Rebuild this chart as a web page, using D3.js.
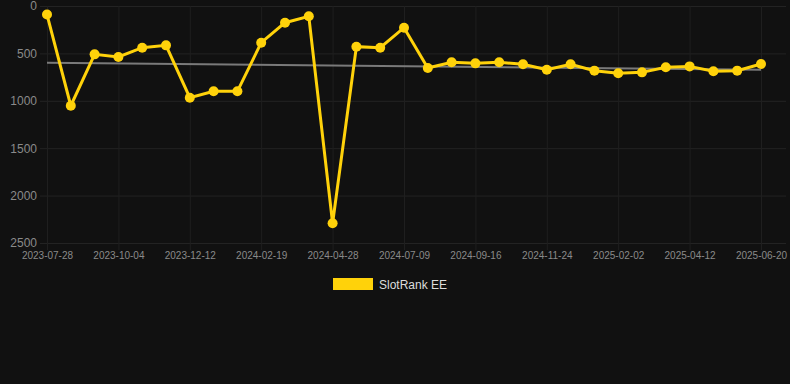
<!DOCTYPE html>
<html>
<head>
<meta charset="utf-8">
<script src="https://cdn.jsdelivr.net/npm/d3@7"></script>
<style>
  body { margin: 0; background: #111111; }
  svg { display: block; font-family: "Liberation Sans", Arial, sans-serif; }
</style>
</head>
<body>
<svg id="chart" width="790" height="384"></svg>
<script>
// data
const dates = [
  "2023-07-28", "2023-08-20", "2023-09-11", "2023-10-04", "2023-10-27", "2023-11-19",
  "2023-12-12", "2024-01-04", "2024-01-27", "2024-02-19", "2024-03-13", "2024-04-05",
  "2024-04-28", "2024-05-22", "2024-06-15", "2024-07-09", "2024-08-01", "2024-08-24",
  "2024-09-16", "2024-10-09", "2024-11-01", "2024-11-24", "2024-12-17", "2025-01-09",
  "2025-02-02", "2025-02-25", "2025-03-20", "2025-04-12", "2025-05-05", "2025-05-28",
  "2025-06-20"
];
const ranks = [
  90, 1052, 510, 538, 440, 415, 967, 900, 900, 387, 176, 109,
  2292, 429, 440, 229, 654, 594, 605, 594, 615, 672, 615, 682,
  710, 700, 647, 637, 689, 682, 612
];
const trend = [598, 672];
const yTicks = [0, 500, 1000, 1500, 2000, 2500];
const seriesName = "SlotRank EE";

const svg = d3.select("#chart");
const plot = { left: 47, right: 761, top: 6, bottom: 243 };

const x = d3.scalePoint().domain(dates).range([plot.left, plot.right]);
const y = d3.scaleLinear().domain([0, 2500]).range([plot.top, plot.bottom]);

// horizontal grid
svg.append("g")
  .selectAll("line")
  .data(yTicks)
  .join("line")
  .attr("x1", 40).attr("x2", 786)
  .attr("y1", d => y(d) + 0.5).attr("y2", d => y(d) + 0.5)
  .attr("stroke", "#232323");

// vertical grid, only at labelled dates
const xTickDates = dates.filter((d, i) => i % 3 === 0);
svg.append("g")
  .selectAll("line")
  .data(xTickDates)
  .join("line")
  .attr("x1", d => x(d) + 0.5).attr("x2", d => x(d) + 0.5)
  .attr("y1", plot.top).attr("y2", plot.bottom + 7)
  .attr("stroke", "#1f1f1f");

// y axis
const yAxis = svg.append("g")
  .attr("transform", `translate(37,0)`)
  .call(d3.axisLeft(y).tickValues(yTicks).tickFormat(d3.format("d")).tickSize(0).tickPadding(0));
yAxis.select(".domain").remove();
yAxis.selectAll("text")
  .attr("fill", "#8a8a8a")
  .style("font-size", "12px")
  .style("font-family", "Liberation Sans, Arial, sans-serif");

// x axis
const xAxis = svg.append("g")
  .attr("transform", `translate(0,${plot.bottom + 9})`)
  .call(d3.axisBottom(x).tickValues(xTickDates).tickSize(0).tickPadding(0));
xAxis.select(".domain").remove();
xAxis.selectAll("text")
  .attr("fill", "#8a8a8a")
  .style("font-size", "10px")
  .style("font-family", "Liberation Sans, Arial, sans-serif");

// trend line
svg.append("line")
  .attr("x1", x(dates[0])).attr("x2", x(dates[dates.length - 1]))
  .attr("y1", y(trend[0])).attr("y2", y(trend[1]))
  .attr("stroke", "#7a7a7a")
  .attr("stroke-width", 2);

// series line
const line = d3.line()
  .x((d, i) => x(dates[i]))
  .y(d => y(d));

svg.append("path")
  .datum(ranks)
  .attr("d", line)
  .attr("fill", "none")
  .attr("stroke", "#FFD20A")
  .attr("stroke-width", 3)
  .attr("stroke-linejoin", "miter");

svg.append("g")
  .selectAll("circle")
  .data(ranks)
  .join("circle")
  .attr("cx", (d, i) => x(dates[i]))
  .attr("cy", d => y(d))
  .attr("r", 5)
  .attr("fill", "#FFD20A");

// legend
const legend = svg.append("g").attr("transform", "translate(333,278)");
legend.append("rect")
  .attr("width", 40).attr("height", 12)
  .attr("fill", "#FFD20A");
legend.append("text")
  .attr("x", 46).attr("y", 10.5)
  .attr("fill", "#dddddd")
  .style("font-size", "12px")
  .text(seriesName);
</script>
</body>
</html>
